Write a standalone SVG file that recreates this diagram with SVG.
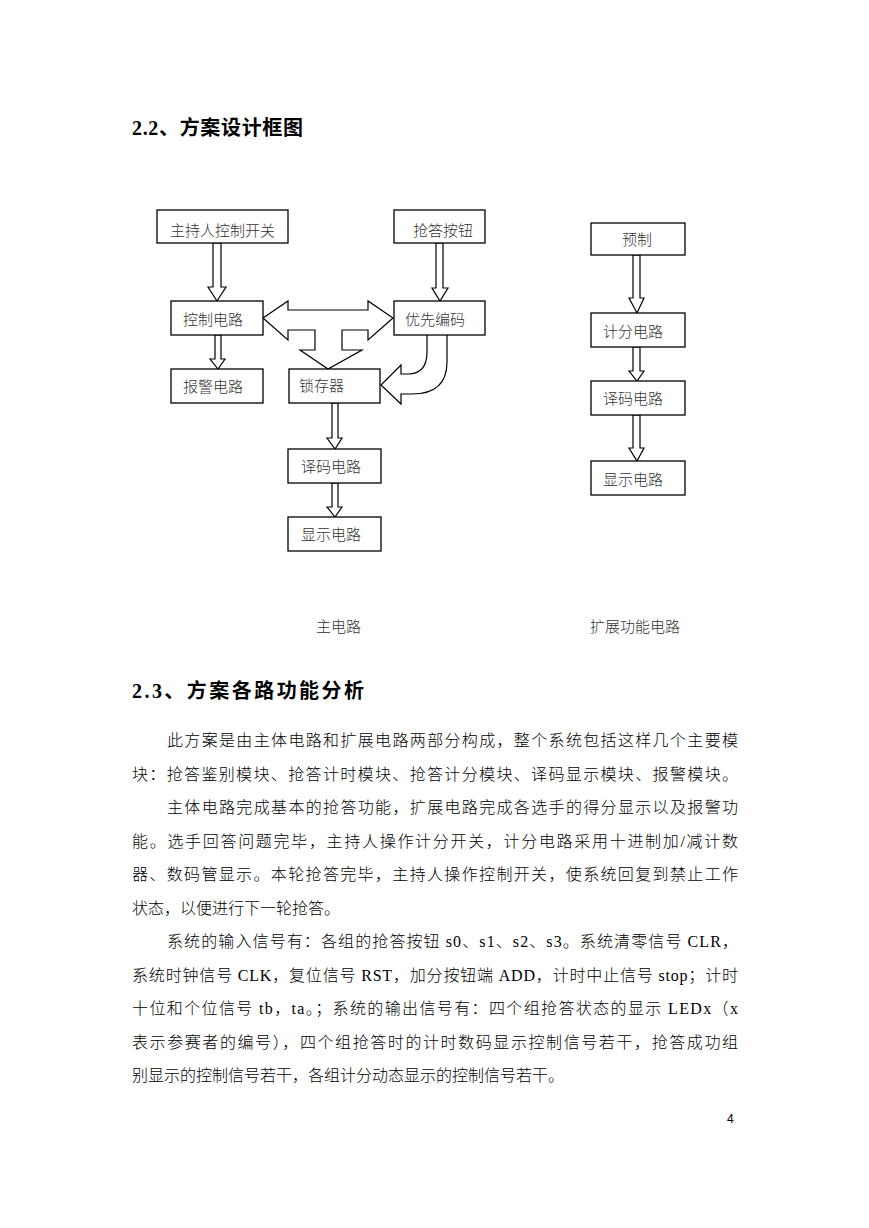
<svg xmlns="http://www.w3.org/2000/svg" width="869" height="1228" viewBox="0 0 869 1228">
<style>
.box{fill:#fff;stroke:#000;stroke-width:1.3}
.lbl{font-family:"Noto Sans CJK SC",sans-serif;font-size:15px;font-weight:300;fill:#333}
.arr{fill:#fff;stroke:#000;stroke-width:1.2;stroke-linejoin:miter}
.h{font-family:"Liberation Serif","Noto Sans CJK SC",serif;font-size:20px;font-weight:bold;fill:#000}
.b{font-family:"Liberation Serif","Noto Sans CJK SC",serif;font-size:16px;font-weight:300;fill:#000}
.cap{font-family:"Noto Sans CJK SC",sans-serif;font-size:15px;font-weight:300;fill:#333}
</style>
<rect width="869" height="1228" fill="#fff"/>
<text class="h" x="132" y="135" textLength="171" lengthAdjust="spacing">2.2、方案设计框图</text>

<g id="connectors">
  <polygon class="arr" points="213,243 221,243 221,287 226,287 217,301 208,287 213,287"/>
  <polygon class="arr" points="436,243 443,243 443,288 448,288 440,301 432,288 436,288"/>
  <polygon class="arr" points="215,335 221,335 221,359 225,359 218,369 210,359 215,359"/>
  <polygon class="arr" points="263,318 288,301 288,310 368,310 368,301 393,318 368,340 368,330 342,330 342,350 362,350 328,369 300,350 315,350 315,330 288,330 288,340"/>
  <path class="arr" d="M427,335 L427,352 C427,368 420,374 408,374 L401,374 L401,365 L381,385 L401,404 L401,394 L412,394 C437,394 447,382 447,362 L447,335"/>
  <polygon class="arr" points="332,403 338,403 338,438 342,438 335,449 327,438 332,438"/>
  <polygon class="arr" points="332,483 338,483 338,507 342,507 335,517 327,507 332,507"/>
  <polygon class="arr" points="633,255 640,255 640,298 644,298 637,313 629,298 633,298"/>
  <polygon class="arr" points="633,347 640,347 640,371 644,371 637,381 629,371 633,371"/>
  <polygon class="arr" points="633,415 640,415 640,448 644,448 637,461 629,448 633,448"/>
</g>

<g id="host-switch"><rect class="box" x="157" y="210" width="131" height="33"/><text class="lbl" x="170" y="236">主持人控制开关</text></g>
<g id="buzz-button"><rect class="box" x="394" y="210" width="91" height="33"/><text class="lbl" x="413" y="236">抢答按钮</text></g>
<g id="control"><rect class="box" x="171" y="301" width="92" height="34"/><text class="lbl" x="183" y="325">控制电路</text></g>
<g id="priority-encoder"><rect class="box" x="394" y="301" width="91" height="34"/><text class="lbl" x="405" y="325">优先编码</text></g>
<g id="alarm"><rect class="box" x="171" y="369" width="92" height="34"/><text class="lbl" x="183" y="392">报警电路</text></g>
<g id="latch"><rect class="box" x="289" y="369" width="91" height="34"/><text class="lbl" x="299" y="391">锁存器</text></g>
<g id="decoder-main"><rect class="box" x="288" y="449" width="93" height="34"/><text class="lbl" x="301" y="472">译码电路</text></g>
<g id="display-main"><rect class="box" x="288" y="517" width="93" height="34"/><text class="lbl" x="301" y="540">显示电路</text></g>

<g id="preset"><rect class="box" x="591" y="223" width="94" height="32"/><text class="lbl" x="622" y="245">预制</text></g>
<g id="score"><rect class="box" x="591" y="313" width="94" height="34"/><text class="lbl" x="603" y="337">计分电路</text></g>
<g id="decoder-ext"><rect class="box" x="591" y="381" width="94" height="34"/><text class="lbl" x="603" y="404">译码电路</text></g>
<g id="display-ext"><rect class="box" x="591" y="461" width="94" height="34"/><text class="lbl" x="603" y="485">显示电路</text></g>

<text class="cap" x="316" y="632">主电路</text>
<text class="cap" x="590" y="632">扩展功能电路</text>

<text class="h" x="132" y="698" font-size="21" textLength="232" lengthAdjust="spacing">2.3、方案各路功能分析</text>

<text class="b" x="167" y="746" textLength="571" lengthAdjust="spacing">此方案是由主体电路和扩展电路两部分构成，整个系统包括这样几个主要模</text>
<text class="b" x="132" y="779.5" textLength="606" lengthAdjust="spacing">块：抢答鉴别模块、抢答计时模块、抢答计分模块、译码显示模块、报警模块。</text>
<text class="b" x="167" y="813" textLength="571" lengthAdjust="spacing">主体电路完成基本的抢答功能，扩展电路完成各选手的得分显示以及报警功</text>
<text class="b" x="132" y="846.5" textLength="606" lengthAdjust="spacing">能。选手回答问题完毕，主持人操作计分开关，计分电路采用十进制加/减计数</text>
<text class="b" x="132" y="880" textLength="606" lengthAdjust="spacing">器、数码管显示。本轮抢答完毕，主持人操作控制开关，使系统回复到禁止工作</text>
<text class="b" x="132" y="913.5">状态，以便进行下一轮抢答。</text>
<text class="b" x="167" y="947" textLength="571" lengthAdjust="spacing">系统的输入信号有：各组的抢答按钮 s0、s1、s2、s3。系统清零信号 CLR，</text>
<text class="b" x="132" y="980.5" textLength="606" lengthAdjust="spacing">系统时钟信号 CLK，复位信号 RST，加分按钮端 ADD，计时中止信号 stop；计时</text>
<text class="b" x="132" y="1014" textLength="606" lengthAdjust="spacing">十位和个位信号 tb，ta。；系统的输出信号有：四个组抢答状态的显示 LEDx（x</text>
<text class="b" x="132" y="1047.5" textLength="606" lengthAdjust="spacing">表示参赛者的编号），四个组抢答时的计时数码显示控制信号若干，抢答成功组</text>
<text class="b" x="132" y="1081">别显示的控制信号若干，各组计分动态显示的控制信号若干。</text>

<text x="727" y="1123" font-family="Liberation Sans,sans-serif" font-size="12" fill="#000">4</text>
</svg>
